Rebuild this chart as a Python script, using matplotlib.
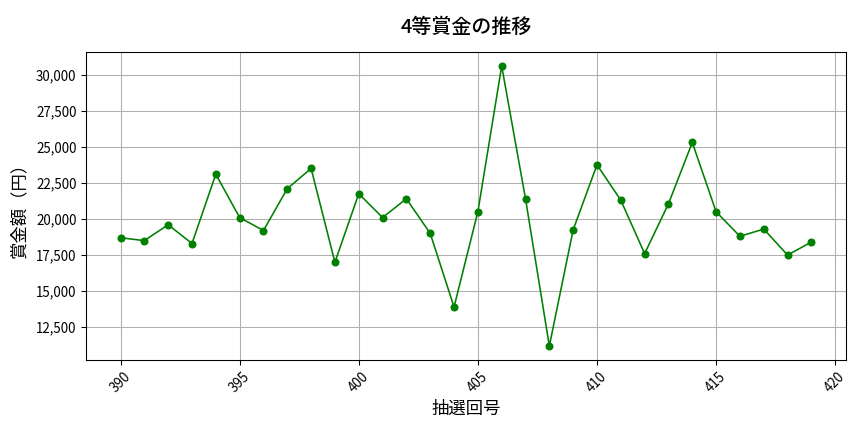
import matplotlib
matplotlib.use('Agg')
from matplotlib import pyplot as plt
from matplotlib.ticker import FuncFormatter

plt.rcParams['font.family'] = ['Noto Sans CJK JP', 'DejaVu Sans']

draws = list(range(390, 420))
prize = [18700, 18500, 19600, 18300, 23100, 20100, 19200, 22100, 23500, 17000,
         21750, 20100, 21400, 19000, 13900, 20500, 30600, 21400, 11200, 19250,
         23750, 21300, 17600, 21050, 25300, 20500, 18800, 19300, 17500, 18400]

fig = plt.figure(figsize=(9, 4.5), dpi=96)
ax = fig.add_axes([0.0995, 0.1667, 0.8796, 0.713])

ax.plot(draws, prize, color='green', marker='o', markersize=5, linewidth=1.2)
ax.grid(True, color='#b0b0b0', linewidth=0.8)
ax.set_axisbelow(True)

ax.set_title('4等賞金の推移', fontsize=15, fontweight='medium', pad=14)
ax.set_xlabel('抽選回号', fontsize=13, labelpad=4)
ax.set_ylabel('賞金額（円）', fontsize=13, labelpad=6)
ax.yaxis.set_major_formatter(FuncFormatter(lambda v, p: '{:,.0f}'.format(v)))
plt.setp(ax.get_xticklabels(), rotation=45)
ax.tick_params(labelsize=10)

plt.savefig('out.png', dpi=96)
